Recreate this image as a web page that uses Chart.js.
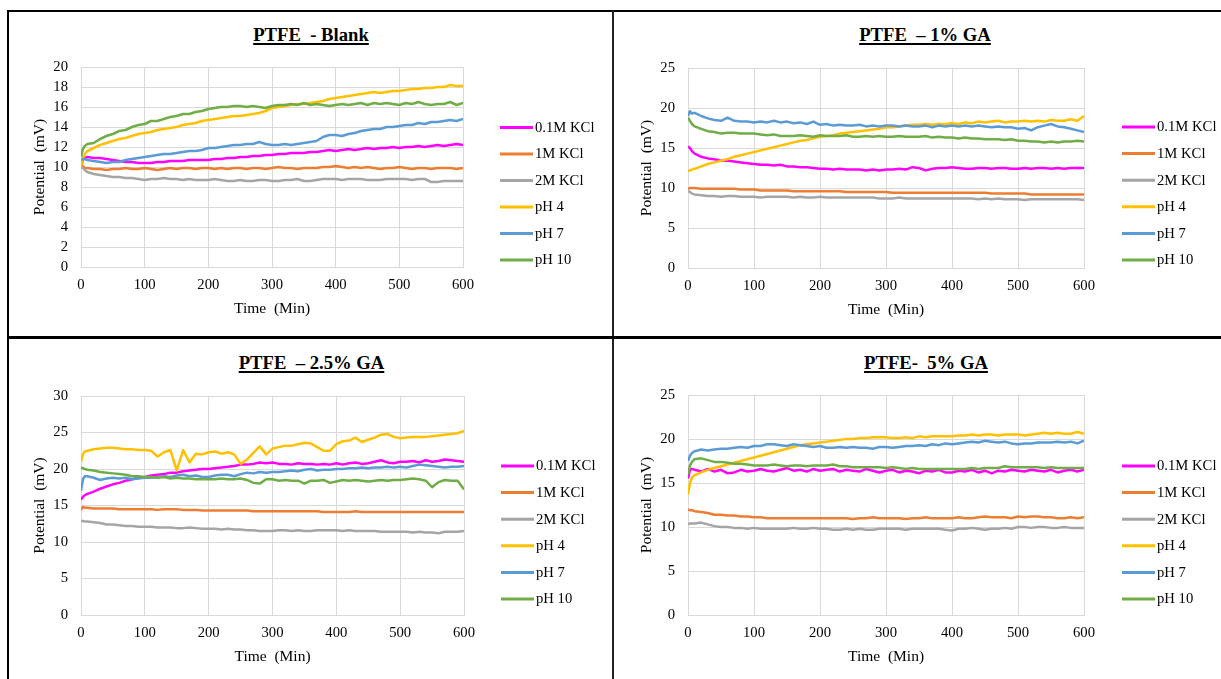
<!DOCTYPE html>
<html>
<head>
<meta charset="utf-8">
<title>PTFE membrane potential</title>
<script src="https://cdn.jsdelivr.net/npm/chart.js@4.4.1/dist/chart.umd.min.js"></script>
<style>
  html, body { margin: 0; padding: 0; background: #fff; }
  body { width: 1221px; height: 679px; position: relative; overflow: hidden;
         font-family: 'Liberation Serif', 'Times New Roman', serif; }
  .rule { position: absolute; background: #000; }
  .panel { position: absolute; }
  .panel canvas { position: absolute; left: 0; top: 0; }
  .ttl { position: absolute; font-weight: bold; font-size: 18.67px; line-height: 20px;
         white-space: pre; text-decoration: underline; text-decoration-thickness: 1.5px;
         text-underline-offset: 2px; transform: translateX(-50%); color: #000; }
</style>
</head>
<body>
<!-- frame around the 2x2 grid -->
<div class="rule" style="left:7px;top:10px;width:1214px;height:2px;"></div>
<div class="rule" style="left:7px;top:10px;width:2px;height:669px;"></div>
<div class="rule" style="left:612px;top:10px;width:2px;height:669px;background:#222;"></div>
<div class="rule" style="left:7px;top:336px;width:1214px;height:3px;"></div>

<div class="ttl" id="t0" style="left:311px;top:25px;"></div>
<div class="ttl" id="t1" style="left:925px;top:25px;"></div>
<div class="ttl" id="t2" style="left:311.5px;top:353px;"></div>
<div class="ttl" id="t3" style="left:926px;top:353px;"></div>

<div class="panel" id="p0"><canvas id="c0"></canvas></div>
<div class="panel" id="p1"><canvas id="c1"></canvas></div>
<div class="panel" id="p2"><canvas id="c2"></canvas></div>
<div class="panel" id="p3"><canvas id="c3"></canvas></div>

<script>
// ---- data -------------------------------------------------------------
const panelTitles = ['PTFE  - Blank', 'PTFE  \u2013 1% GA', 'PTFE  \u2013 2.5% GA', 'PTFE-  5% GA'];
const seriesNames = ['0.1M KCl', '1M KCl', '2M KCl', 'pH 4', 'pH 7', 'pH 10'];
const xTitle = 'Time  (Min)';
const yTitle = 'Potential  (mV)';
const yMaxima = [20, 25, 30, 25];
const ySteps = [2, 5, 5, 5];

// sampling times (min)
const minutes = [0, 3, 6,
  10, 20, 30, 40, 50, 60, 70, 80, 90, 100,
  110, 120, 130, 140, 150, 160, 170, 180, 190, 200,
  210, 220, 230, 240, 250, 260, 270, 280, 290, 300,
  310, 320, 330, 340, 350, 360, 370, 380, 390, 400,
  410, 420, 430, 440, 450, 460, 470, 480, 490, 500,
  510, 520, 530, 540, 550, 560, 570, 580, 590, 600];

// PTFE - Blank (mV)
const blankKCl01 = [10.0, 10.7, 10.9,
  11.0, 10.9, 10.9, 10.8, 10.7, 10.6, 10.5, 10.5, 10.4, 10.4,
  10.4, 10.5, 10.5, 10.6, 10.6, 10.6, 10.7, 10.7, 10.7, 10.7,
  10.8, 10.8, 10.9, 10.9, 11.0, 11.0, 11.1, 11.1, 11.2, 11.2,
  11.3, 11.3, 11.4, 11.4, 11.4, 11.5, 11.5, 11.6, 11.7, 11.6,
  11.7, 11.8, 11.7, 11.8, 11.9, 11.8, 11.9, 11.9, 12.0, 11.9,
  12.0, 12.0, 12.1, 12.0, 12.1, 12.2, 12.1, 12.2, 12.3, 12.2];
const blankKCl1 = [10.0, 10.1, 9.9,
  9.9, 9.8, 9.8, 9.7, 9.8, 9.8, 9.9, 9.8, 9.8, 9.9,
  9.8, 9.7, 9.8, 9.9, 9.8, 9.9, 9.9, 9.8, 9.9, 9.9,
  9.8, 9.9, 9.8, 9.9, 9.9, 9.8, 9.9, 9.9, 9.8, 9.9,
  10.0, 9.9, 9.9, 9.8, 9.9, 9.9, 9.9, 10.0, 10.0, 10.1,
  10.0, 9.9, 10.0, 9.9, 10.0, 9.9, 9.8, 9.9, 9.9, 10.0,
  9.9, 9.8, 9.9, 9.9, 9.8, 9.9, 9.9, 9.9, 9.8, 9.9];
const blankKCl2 = [10.0, 9.9, 9.7,
  9.5, 9.3, 9.2, 9.1, 9.0, 9.0, 8.9, 8.9, 8.8, 8.7,
  8.8, 8.8, 8.9, 8.8, 8.8, 8.7, 8.8, 8.7, 8.7, 8.7,
  8.8, 8.7, 8.6, 8.6, 8.7, 8.6, 8.6, 8.7, 8.7, 8.6,
  8.6, 8.7, 8.7, 8.8, 8.6, 8.6, 8.7, 8.8, 8.8, 8.8,
  8.7, 8.8, 8.8, 8.8, 8.7, 8.7, 8.7, 8.8, 8.8, 8.8,
  8.8, 8.7, 8.8, 8.8, 8.5, 8.5, 8.6, 8.6, 8.6, 8.6];
const blankPH4 = [10.0, 10.9, 11.3,
  11.6, 11.9, 12.2, 12.4, 12.6, 12.8, 12.9, 13.1, 13.3, 13.4,
  13.5, 13.7, 13.8, 13.9, 14.0, 14.2, 14.3, 14.4, 14.6, 14.7,
  14.8, 14.9, 15.0, 15.1, 15.1, 15.2, 15.3, 15.4, 15.6, 15.9,
  16.0, 16.1, 16.2, 16.3, 16.3, 16.4, 16.5, 16.6, 16.8, 16.9,
  17.0, 17.1, 17.2, 17.3, 17.4, 17.5, 17.4, 17.5, 17.6, 17.6,
  17.7, 17.8, 17.8, 17.9, 17.9, 18.0, 18.0, 18.2, 18.1, 18.1];
const blankPH7 = [10.7, 10.8, 10.8,
  10.7, 10.6, 10.5, 10.4, 10.5, 10.5, 10.7, 10.8, 10.9, 11.0,
  11.1, 11.2, 11.3, 11.3, 11.4, 11.5, 11.6, 11.6, 11.7, 11.9,
  11.9, 12.0, 12.1, 12.2, 12.2, 12.3, 12.3, 12.5, 12.3, 12.2,
  12.2, 12.3, 12.2, 12.3, 12.4, 12.5, 12.6, 13.0, 13.2, 13.2,
  13.1, 13.3, 13.4, 13.6, 13.7, 13.8, 13.8, 14.0, 14.0, 14.1,
  14.2, 14.2, 14.4, 14.3, 14.5, 14.5, 14.6, 14.7, 14.6, 14.8];
const blankPH10 = [11.0, 11.8, 12.1,
  12.3, 12.4, 12.8, 13.1, 13.3, 13.6, 13.7, 14.0, 14.2, 14.3,
  14.6, 14.6, 14.8, 15.0, 15.1, 15.3, 15.3, 15.5, 15.6, 15.8,
  15.9, 16.0, 16.0, 16.1, 16.1, 16.0, 16.1, 16.0, 15.9, 16.1,
  16.2, 16.2, 16.3, 16.2, 16.4, 16.2, 16.3, 16.2, 16.1, 16.2,
  16.3, 16.2, 16.3, 16.4, 16.2, 16.4, 16.3, 16.4, 16.3, 16.2,
  16.4, 16.3, 16.5, 16.3, 16.2, 16.3, 16.3, 16.5, 16.2, 16.4];

// PTFE - 1% GA (mV)
const ga1KCl01 = [15.2, 15.0, 14.6,
  14.3, 13.9, 13.7, 13.6, 13.4, 13.4, 13.3, 13.2, 13.1, 13.0,
  12.9, 12.9, 12.8, 12.9, 12.7, 12.7, 12.6, 12.6, 12.5, 12.4,
  12.4, 12.3, 12.4, 12.3, 12.3, 12.3, 12.2, 12.3, 12.2, 12.3,
  12.3, 12.4, 12.3, 12.6, 12.5, 12.2, 12.4, 12.5, 12.5, 12.6,
  12.5, 12.4, 12.4, 12.5, 12.5, 12.4, 12.5, 12.5, 12.4, 12.4,
  12.5, 12.4, 12.5, 12.5, 12.4, 12.5, 12.4, 12.5, 12.5, 12.5];
const ga1KCl1 = [9.9, 10.0, 10.0,
  10.0, 9.9, 9.9, 9.9, 9.9, 9.9, 9.9, 9.8, 9.8, 9.8,
  9.7, 9.7, 9.7, 9.7, 9.7, 9.6, 9.6, 9.6, 9.6, 9.6,
  9.6, 9.6, 9.6, 9.5, 9.5, 9.5, 9.5, 9.5, 9.5, 9.5,
  9.4, 9.4, 9.4, 9.4, 9.4, 9.4, 9.4, 9.4, 9.4, 9.4,
  9.4, 9.4, 9.4, 9.4, 9.4, 9.3, 9.3, 9.3, 9.3, 9.3,
  9.3, 9.2, 9.2, 9.2, 9.2, 9.2, 9.2, 9.2, 9.2, 9.2];
const ga1KCl2 = [9.6, 9.5, 9.3,
  9.2, 9.1, 9.0, 9.0, 8.9, 9.0, 9.0, 8.9, 8.9, 8.9,
  8.8, 8.9, 8.9, 8.9, 8.9, 8.8, 8.9, 8.8, 8.8, 8.9,
  8.8, 8.8, 8.8, 8.8, 8.8, 8.8, 8.8, 8.8, 8.7, 8.7,
  8.7, 8.8, 8.7, 8.7, 8.7, 8.7, 8.7, 8.7, 8.7, 8.7,
  8.7, 8.7, 8.7, 8.6, 8.7, 8.6, 8.7, 8.6, 8.6, 8.6,
  8.5, 8.6, 8.6, 8.6, 8.6, 8.6, 8.6, 8.6, 8.6, 8.5];
const ga1PH4 = [12.1, 12.2, 12.3,
  12.4, 12.7, 13.0, 13.2, 13.4, 13.6, 13.9, 14.1, 14.3, 14.5,
  14.7, 14.9, 15.1, 15.3, 15.5, 15.7, 15.9, 16.0, 16.2, 16.4,
  16.5, 16.6, 16.8, 16.9, 17.0, 17.1, 17.2, 17.3, 17.4, 17.6,
  17.6, 17.7, 17.8, 17.9, 17.9, 18.0, 17.9, 18.0, 18.0, 18.1,
  18.0, 18.2, 18.1, 18.3, 18.2, 18.3, 18.4, 18.2, 18.3, 18.3,
  18.4, 18.3, 18.4, 18.3, 18.5, 18.4, 18.4, 18.6, 18.4, 19.0];
const ga1PH7 = [19.0, 19.6, 19.3,
  19.4, 19.0, 18.7, 18.5, 18.4, 18.8, 18.4, 18.3, 18.3, 18.2,
  18.3, 18.2, 18.4, 18.2, 18.3, 18.1, 18.2, 18.0, 18.3, 17.9,
  18.0, 17.8, 17.9, 17.8, 17.8, 17.9, 17.7, 17.8, 17.7, 17.8,
  17.8, 17.7, 17.8, 17.7, 17.7, 17.8, 17.6, 17.8, 17.7, 17.8,
  17.7, 17.8, 17.7, 17.8, 17.7, 17.6, 17.7, 17.6, 17.6, 17.4,
  17.5, 17.2, 17.6, 17.8, 18.0, 17.7, 17.6, 17.4, 17.2, 17.0];
const ga1PH10 = [18.8, 18.4, 18.0,
  17.7, 17.4, 17.1, 17.0, 16.8, 16.9, 16.9, 16.8, 16.8, 16.8,
  16.7, 16.6, 16.7, 16.5, 16.5, 16.5, 16.6, 16.5, 16.4, 16.6,
  16.5, 16.5, 16.5, 16.6, 16.4, 16.4, 16.5, 16.4, 16.5, 16.4,
  16.4, 16.5, 16.4, 16.4, 16.4, 16.5, 16.3, 16.4, 16.3, 16.3,
  16.2, 16.3, 16.2, 16.2, 16.1, 16.1, 16.1, 16.0, 16.1, 15.9,
  15.9, 15.8, 15.8, 15.7, 15.8, 15.7, 15.8, 15.8, 15.9, 15.8];

// PTFE - 2.5% GA (mV)
const ga25KCl01 = [15.8, 16.2, 16.4,
  16.6, 16.9, 17.3, 17.6, 17.9, 18.1, 18.4, 18.6, 18.8, 18.9,
  19.1, 19.2, 19.3, 19.5, 19.5, 19.7, 19.8, 19.9, 20.0, 20.0,
  20.1, 20.2, 20.3, 20.4, 20.6, 20.6, 20.7, 20.9, 20.8, 20.9,
  20.7, 20.7, 20.6, 20.8, 20.7, 20.7, 20.6, 20.7, 20.6, 20.8,
  20.6, 20.8, 20.9, 20.7, 20.8, 21.0, 21.2, 20.9, 20.8, 21.0,
  21.0, 21.1, 20.9, 21.2, 21.0, 21.1, 21.3, 21.2, 21.1, 21.0];
const ga25KCl1 = [14.4, 14.8, 14.7,
  14.7, 14.6, 14.6, 14.6, 14.6, 14.5, 14.5, 14.5, 14.5, 14.5,
  14.5, 14.4, 14.5, 14.5, 14.5, 14.4, 14.4, 14.4, 14.3, 14.3,
  14.3, 14.3, 14.3, 14.3, 14.3, 14.3, 14.2, 14.2, 14.2, 14.2,
  14.2, 14.2, 14.2, 14.2, 14.2, 14.2, 14.2, 14.1, 14.1, 14.1,
  14.1, 14.1, 14.2, 14.1, 14.1, 14.1, 14.1, 14.1, 14.1, 14.1,
  14.1, 14.1, 14.1, 14.1, 14.1, 14.1, 14.1, 14.1, 14.1, 14.1];
const ga25KCl2 = [12.8, 12.9, 12.8,
  12.8, 12.7, 12.6, 12.4, 12.4, 12.3, 12.2, 12.2, 12.1, 12.1,
  12.1, 12.0, 12.0, 12.0, 11.9, 11.9, 12.0, 11.9, 11.8, 11.8,
  11.8, 11.7, 11.8, 11.7, 11.7, 11.6, 11.6, 11.5, 11.5, 11.5,
  11.6, 11.6, 11.5, 11.6, 11.5, 11.5, 11.6, 11.6, 11.6, 11.6,
  11.5, 11.6, 11.5, 11.5, 11.5, 11.5, 11.4, 11.4, 11.4, 11.4,
  11.4, 11.3, 11.4, 11.3, 11.3, 11.2, 11.4, 11.4, 11.4, 11.5];
const ga25PH4 = [21.0, 22.0, 22.4,
  22.5, 22.7, 22.8, 22.9, 22.9, 22.8, 22.7, 22.7, 22.6, 22.6,
  22.5, 21.7, 22.3, 22.6, 19.8, 22.6, 20.9, 22.1, 22.0, 22.3,
  22.4, 22.1, 22.3, 22.0, 20.7, 21.3, 22.2, 23.1, 22.0, 22.8,
  23.0, 23.2, 23.2, 23.4, 23.6, 23.5, 23.0, 22.5, 22.5, 23.4,
  23.8, 23.9, 24.3, 23.7, 24.0, 24.3, 24.7, 24.8, 24.4, 24.2,
  24.3, 24.4, 24.4, 24.4, 24.5, 24.6, 24.7, 24.8, 24.9, 25.2];
const ga25PH7 = [17.0, 18.6, 19.0,
  19.0, 18.8, 18.5, 18.7, 18.8, 18.7, 18.8, 18.6, 18.7, 18.8,
  18.8, 18.9, 19.0, 18.9, 19.1, 19.2, 19.0, 19.1, 18.9, 18.9,
  19.1, 19.2, 19.2, 19.0, 19.3, 19.5, 19.4, 19.6, 19.5, 19.6,
  19.6, 19.7, 19.8, 19.7, 19.9, 20.0, 19.8, 19.9, 19.9, 20.0,
  20.0, 20.1, 20.1, 20.2, 20.1, 20.2, 20.2, 20.3, 20.2, 20.3,
  20.2, 20.4, 20.6, 20.5, 20.4, 20.3, 20.2, 20.3, 20.3, 20.4];
const ga25PH10 = [20.2, 20.1, 20.0,
  19.9, 19.8, 19.6, 19.5, 19.4, 19.3, 19.2, 19.0, 19.0, 18.9,
  18.9, 18.8, 18.9, 18.7, 18.8, 18.7, 18.7, 18.6, 18.6, 18.6,
  18.6, 18.7, 18.6, 18.6, 18.7, 18.5, 18.1, 18.0, 18.6, 18.6,
  18.4, 18.5, 18.4, 18.4, 18.0, 18.4, 18.4, 18.5, 18.1, 18.3,
  18.5, 18.4, 18.5, 18.4, 18.3, 18.4, 18.5, 18.4, 18.5, 18.5,
  18.6, 18.7, 18.6, 18.4, 17.5, 18.2, 18.5, 18.4, 18.4, 17.2];

// PTFE - 5% GA (mV)
const ga5KCl01 = [15.5, 16.5, 16.6,
  16.5, 16.3, 16.6, 16.3, 16.5, 16.1, 16.2, 16.5, 16.3, 16.4,
  16.6, 16.4, 16.3, 16.5, 16.7, 16.4, 16.5, 16.3, 16.6, 16.4,
  16.5, 16.6, 16.3, 16.5, 16.4, 16.3, 16.6, 16.4, 16.2, 16.4,
  16.5, 16.2, 16.4, 16.3, 16.1, 16.4, 16.3, 16.5, 16.2, 16.2,
  16.4, 16.3, 16.5, 16.2, 16.4, 16.1, 16.4, 16.3, 16.5, 16.4,
  16.3, 16.5, 16.4, 16.3, 16.5, 16.2, 16.4, 16.5, 16.3, 16.5];
const ga5KCl1 = [12.0, 11.9, 11.9,
  11.8, 11.7, 11.6, 11.4, 11.4, 11.3, 11.3, 11.2, 11.2, 11.1,
  11.1, 11.0, 11.0, 11.0, 11.0, 11.0, 11.0, 11.0, 11.0, 11.0,
  11.0, 11.0, 11.0, 11.0, 10.9, 11.0, 11.0, 11.1, 11.0, 11.0,
  11.0, 11.0, 10.9, 11.0, 11.0, 11.1, 11.0, 11.0, 11.0, 11.0,
  11.1, 11.0, 11.0, 11.1, 11.2, 11.1, 11.1, 11.1, 11.0, 11.2,
  11.1, 11.2, 11.2, 11.1, 11.1, 11.0, 11.0, 11.1, 11.0, 11.1];
const ga5KCl2 = [10.3, 10.4, 10.4,
  10.4, 10.5, 10.3, 10.1, 10.0, 10.0, 9.9, 9.9, 9.8, 9.9,
  9.8, 9.8, 9.8, 9.8, 9.8, 9.9, 9.8, 9.8, 9.9, 9.8,
  9.8, 9.7, 9.7, 9.8, 9.7, 9.8, 9.7, 9.7, 9.8, 9.8,
  9.8, 9.8, 9.7, 9.8, 9.8, 9.8, 9.8, 9.8, 9.7, 9.6,
  9.8, 9.8, 9.9, 9.8, 9.7, 9.8, 9.8, 9.9, 9.8, 10.0,
  10.0, 9.9, 10.0, 10.0, 9.9, 9.9, 10.0, 9.9, 9.9, 9.9];
const ga5PH4 = [13.7, 15.0, 15.6,
  15.9, 16.2, 16.5, 16.7, 16.9, 17.1, 17.3, 17.5, 17.7, 17.9,
  18.1, 18.3, 18.5, 18.7, 18.9, 19.1, 19.3, 19.4, 19.5, 19.6,
  19.7, 19.8, 19.9, 20.0, 20.0, 20.1, 20.1, 20.2, 20.2, 20.2,
  20.1, 20.1, 20.2, 20.1, 20.3, 20.2, 20.3, 20.3, 20.3, 20.3,
  20.4, 20.4, 20.5, 20.4, 20.5, 20.5, 20.4, 20.5, 20.5, 20.5,
  20.4, 20.5, 20.6, 20.7, 20.6, 20.7, 20.6, 20.6, 20.8, 20.6];
const ga5PH7 = [17.5, 18.1, 18.4,
  18.6, 18.8, 18.7, 18.8, 18.9, 18.9, 19.0, 19.1, 19.0, 19.2,
  19.2, 19.4, 19.4, 19.3, 19.2, 19.4, 19.3, 19.2, 19.1, 19.2,
  19.0, 19.0, 19.1, 19.0, 19.1, 19.0, 19.0, 18.9, 19.1, 19.1,
  19.0, 19.1, 19.2, 19.2, 19.3, 19.2, 19.4, 19.3, 19.5, 19.4,
  19.5, 19.6, 19.7, 19.6, 19.8, 19.7, 19.6, 19.7, 19.5, 19.4,
  19.5, 19.5, 19.6, 19.6, 19.6, 19.7, 19.6, 19.7, 19.5, 19.8];
const ga5PH10 = [16.0, 17.0, 17.4,
  17.7, 17.8, 17.6, 17.4, 17.4, 17.3, 17.2, 17.2, 17.1, 17.0,
  17.0, 17.0, 17.1, 17.0, 16.9, 17.0, 17.0, 16.9, 17.0, 17.0,
  17.0, 17.1, 16.9, 16.9, 16.8, 16.8, 16.8, 16.8, 16.8, 16.7,
  16.8, 16.7, 16.6, 16.7, 16.6, 16.6, 16.6, 16.6, 16.6, 16.6,
  16.6, 16.6, 16.7, 16.6, 16.7, 16.7, 16.7, 16.9, 16.8, 16.8,
  16.8, 16.8, 16.8, 16.7, 16.8, 16.7, 16.7, 16.7, 16.7, 16.7];

const panelSeries = [
  [blankKCl01, blankKCl1, blankKCl2, blankPH4, blankPH7, blankPH10],
  [ga1KCl01, ga1KCl1, ga1KCl2, ga1PH4, ga1PH7, ga1PH10],
  [ga25KCl01, ga25KCl1, ga25KCl2, ga25PH4, ga25PH7, ga25PH10],
  [ga5KCl01, ga5KCl1, ga5KCl2, ga5PH4, ga5PH7, ga5PH10]
];

// ---- styling and layout ------------------------------------------------
const seriesColors = ['#FF00FF', '#ED7D31', '#A5A5A5', '#FFC000', '#5B9BD5', '#70AD47'];
const FONT = "'Liberation Serif', 'Times New Roman', serif";
const TXT = 14.67;
const AXIS_TXT = 15.5;
const Y_AXIS_W = 50;
const X_AXIS_H = 52;

// canvas box and plot rectangle for each panel, page pixels
const panelLayout = [
  { box: { left: 10,  top: 13,  width: 602, height: 323 }, area: { left: 81,  top: 67,  right: 463,  bottom: 267 }, legend: { x: 500,  y: 127.5, gap: 26.5 } },
  { box: { left: 615, top: 13,  width: 606, height: 323 }, area: { left: 688, top: 68,  right: 1084, bottom: 268 }, legend: { x: 1122, y: 127,   gap: 26.6 } },
  { box: { left: 10,  top: 340, width: 602, height: 339 }, area: { left: 81,  top: 396, right: 464,  bottom: 615 }, legend: { x: 501,  y: 466,   gap: 26.6 } },
  { box: { left: 615, top: 340, width: 606, height: 339 }, area: { left: 688, top: 395, right: 1084, bottom: 615 }, legend: { x: 1122, y: 466,   gap: 26.6 } }
];

// legend drawn to the right of the plot: short line + label per series
const sideLegend = {
  id: 'sideLegend',
  afterDraw(chart, args, opts) {
    const ctx = chart.ctx;
    ctx.save();
    ctx.font = TXT + 'px ' + FONT;
    ctx.textBaseline = 'middle';
    ctx.textAlign = 'left';
    chart.data.datasets.forEach((ds, i) => {
      const y = opts.y + i * opts.gap;
      ctx.strokeStyle = ds.borderColor;
      ctx.lineWidth = 3;
      ctx.beginPath();
      ctx.moveTo(opts.x, y);
      ctx.lineTo(opts.x + 33, y);
      ctx.stroke();
      ctx.fillStyle = '#000';
      ctx.fillText(ds.label, opts.x + 35, y + 0.5);
    });
    ctx.restore();
  }
};

Chart.defaults.font.family = FONT;
Chart.defaults.color = '#000';

panelLayout.forEach((lay, p) => {
  const { box, area, legend } = lay;
  const wrap = document.getElementById('p' + p);
  wrap.style.left = box.left + 'px';
  wrap.style.top = box.top + 'px';
  wrap.style.width = box.width + 'px';
  wrap.style.height = box.height + 'px';
  const canvas = document.getElementById('c' + p);
  canvas.width = box.width;
  canvas.height = box.height;
  canvas.style.width = box.width + 'px';
  canvas.style.height = box.height + 'px';

  document.getElementById('t' + p).textContent = panelTitles[p];

  const datasets = panelSeries[p].map((values, i) => ({
    label: seriesNames[i],
    data: values.map((v, k) => ({ x: minutes[k], y: v })),
    borderColor: seriesColors[i],
    backgroundColor: seriesColors[i],
    borderWidth: 2.5,
    pointRadius: 0,
    tension: 0,
    borderJoinStyle: 'round',
    order: seriesNames.length - i
  }));

  new Chart(canvas, {
    type: 'line',
    data: { datasets },
    plugins: [sideLegend],
    options: {
      responsive: false,
      animation: false,
      devicePixelRatio: 1,
      events: [],
      layout: {
        padding: {
          left: area.left - box.left - Y_AXIS_W,
          top: area.top - box.top,
          right: box.left + box.width - area.right,
          bottom: box.top + box.height - area.bottom - X_AXIS_H
        }
      },
      plugins: {
        legend: { display: false },
        tooltip: { enabled: false },
        sideLegend: { x: legend.x - box.left, y: legend.y - box.top, gap: legend.gap }
      },
      scales: {
        x: {
          type: 'linear',
          min: 0,
          max: 600,
          ticks: { stepSize: 100, autoSkip: false, maxRotation: 0, padding: 9, color: '#000', font: { size: TXT } },
          grid: { color: '#D9D9D9', lineWidth: 1, drawTicks: false },
          border: { color: '#D9D9D9' },
          title: { display: true, text: xTitle, color: '#000', font: { size: AXIS_TXT }, padding: { top: 0, bottom: 1 } },
          afterFit(scale) { scale.height = X_AXIS_H; }
        },
        y: {
          min: 0,
          max: yMaxima[p],
          ticks: { stepSize: ySteps[p], autoSkip: false, padding: 13, color: '#000', font: { size: TXT } },
          grid: { color: '#D9D9D9', lineWidth: 1, drawTicks: false },
          border: { color: '#D9D9D9' },
          title: { display: true, text: yTitle, color: '#000', font: { size: AXIS_TXT }, padding: { top: 0, bottom: 0 } },
          afterFit(scale) { scale.width = Y_AXIS_W; }
        }
      }
    }
  });
});
</script>
</body>
</html>
